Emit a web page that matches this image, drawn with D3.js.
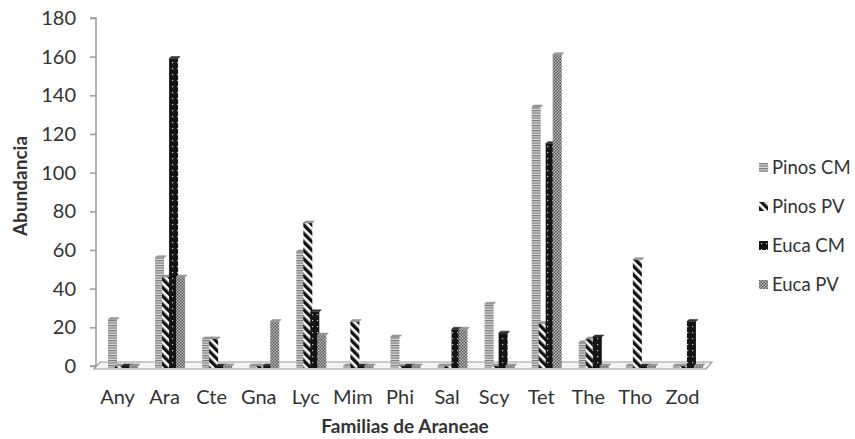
<!DOCTYPE html>
<html>
<head>
<meta charset="utf-8">
<script src="https://cdn.jsdelivr.net/npm/d3@7"></script>
<style>
  body { margin: 0; background: #fff; }
  text { font-family: Lato, "Open Sans", sans-serif; fill: #333; }
</style>
</head>
<body>
<div id="chart-area"></div>
<script>
// Datos
var familias = ["Any", "Ara", "Cte", "Gna", "Lyc", "Mim", "Phi", "Sal", "Scy", "Tet", "The", "Tho", "Zod"];
var series = ["Pinos CM", "Pinos PV", "Euca CM", "Euca PV"];
var pinosCM = [24, 56, 14, 0, 59, 0, 15, 0, 32, 134, 12, 0, 0];
var pinosPV = [0, 46, 14, 0, 74, 23, 0, 0, 0, 22, 14, 55, 0];
var eucaCM  = [0, 159, 0, 0, 28, 0, 0, 19, 17, 115, 15, 0, 23];
var eucaPV  = [0, 46, 0, 23, 16, 0, 0, 19, 0, 161, 0, 0, 0];
var yTicks = [0, 20, 40, 60, 80, 100, 120, 140, 160, 180];

var valores = [pinosCM, pinosPV, eucaCM, eucaPV];
var patrones = ["p-cm", "p-pv", "e-cm", "e-pv"];

var width = 855, height = 439;
var svg = d3.select("#chart-area").append("svg")
    .attr("width", width)
    .attr("height", height);

// Patrones de relleno
var defs = svg.append("defs");
var p1 = defs.append("pattern").attr("id", "p-cm").attr("patternUnits", "userSpaceOnUse")
    .attr("width", 4).attr("height", 2.5);
p1.append("rect").attr("width", 4).attr("height", 2.5).attr("fill", "#d8d8d8");
p1.append("rect").attr("width", 4).attr("height", 1.2).attr("fill", "#7a7a7a");

var p2 = defs.append("pattern").attr("id", "p-pv").attr("patternUnits", "userSpaceOnUse")
    .attr("width", 6).attr("height", 6).attr("patternTransform", "rotate(-45)");
p2.append("rect").attr("width", 6).attr("height", 6).attr("fill", "#fff");
p2.append("rect").attr("width", 3.4).attr("height", 6).attr("fill", "#111");

var p3 = defs.append("pattern").attr("id", "e-cm").attr("patternUnits", "userSpaceOnUse")
    .attr("width", 5).attr("height", 6);
p3.append("rect").attr("width", 5).attr("height", 6).attr("fill", "#141414");
p3.append("rect").attr("x", 2).attr("y", 2).attr("width", 1.2).attr("height", 1.2).attr("fill", "#ccc");

var p4 = defs.append("pattern").attr("id", "e-pv").attr("patternUnits", "userSpaceOnUse")
    .attr("width", 3).attr("height", 3);
p4.append("rect").attr("width", 3).attr("height", 3).attr("fill", "#bdbdbd");
p4.append("rect").attr("width", 1.5).attr("height", 1.5).attr("fill", "#555");
p4.append("rect").attr("x", 1.5).attr("y", 1.5).attr("width", 1.5).attr("height", 1.5).attr("fill", "#555");

// Escalas
var x = d3.scaleBand().domain(familias).range([96, 708]).padding(0);
var xs = d3.scaleBand().domain(series).range([12, 40]).padding(0);
var y = d3.scaleLinear().domain([0, 180]).range([366, 18]);

// Piso 3D
svg.append("path")
    .attr("d", "M100,362 L712,362 L706,369 L94,369 Z")
    .attr("fill", "#f4f4f4")
    .attr("stroke", "#9a9a9a")
    .attr("stroke-width", 1.2);

// Eje Y
var yAxis = svg.append("g")
    .attr("transform", "translate(96,0)")
    .call(d3.axisLeft(y).tickValues(yTicks).tickSize(6).tickPadding(14));
yAxis.selectAll("line, path").attr("stroke", "#9a9a9a").attr("stroke-width", 1.5);
yAxis.select(".domain").attr("d", "M-6,18H0V366H-6");
yAxis.selectAll("text").attr("font-size", 20).attr("font-family", "Lato, sans-serif").attr("fill", "#333");

// Barras
var bw = xs.bandwidth() + 2;
series.forEach(function(s, si) {
    var g = svg.append("g");
    var datos = familias.map(function(f, i) { return { f: f, v: valores[si][i] }; });
    g.selectAll("rect")
        .data(datos)
        .enter()
        .append("rect")
            .attr("x", d => x(d.f) + xs(s))
            .attr("y", d => y(d.v))
            .attr("width", bw)
            .attr("height", d => Math.max(0, y(0) - y(d.v)) + 2)
            .attr("fill", "url(#" + patrones[si] + ")");
    // tapa superior
    g.selectAll("path")
        .data(datos)
        .enter()
        .append("path")
            .attr("d", function(d) {
                var x0 = x(d.f) + xs(s), y0 = y(d.v);
                return "M" + x0 + "," + y0 + "l2,-2h" + bw + "l-2,2Z";
            })
            .attr("fill", si == 2 ? "#333" : "#999")
            .attr("stroke", si == 2 ? "#222" : "#888")
            .attr("stroke-width", 0.5);
});

// Etiquetas del eje X
svg.append("g").selectAll("text")
    .data(familias)
    .enter()
    .append("text")
        .attr("x", d => x(d) + x.bandwidth() / 2 - 2)
        .attr("y", 404)
        .attr("text-anchor", "middle")
        .attr("font-size", 20)
        .text(d => d);

// Titulos de ejes
svg.append("text")
    .attr("x", 405)
    .attr("y", 433)
    .attr("text-anchor", "middle")
    .attr("font-size", 19)
    .attr("font-weight", "bold")
    .text("Familias de Araneae");

svg.append("text")
    .attr("transform", "translate(27,186) rotate(-90)")
    .attr("text-anchor", "middle")
    .attr("font-size", 19)
    .attr("font-weight", "bold")
    .text("Abundancia");

// Leyenda
var legend = svg.append("g").selectAll("g")
    .data(series)
    .enter()
    .append("g")
        .attr("transform", (d, i) => "translate(759," + (163 + i * 39) + ")");
legend.append("rect")
    .attr("width", 9)
    .attr("height", 9)
    .attr("fill", (d, i) => "url(#" + patrones[i] + ")");
legend.append("text")
    .attr("x", 13)
    .attr("y", 11)
    .attr("font-size", 18.5)
    .text(d => d);
</script>
</body>
</html>
